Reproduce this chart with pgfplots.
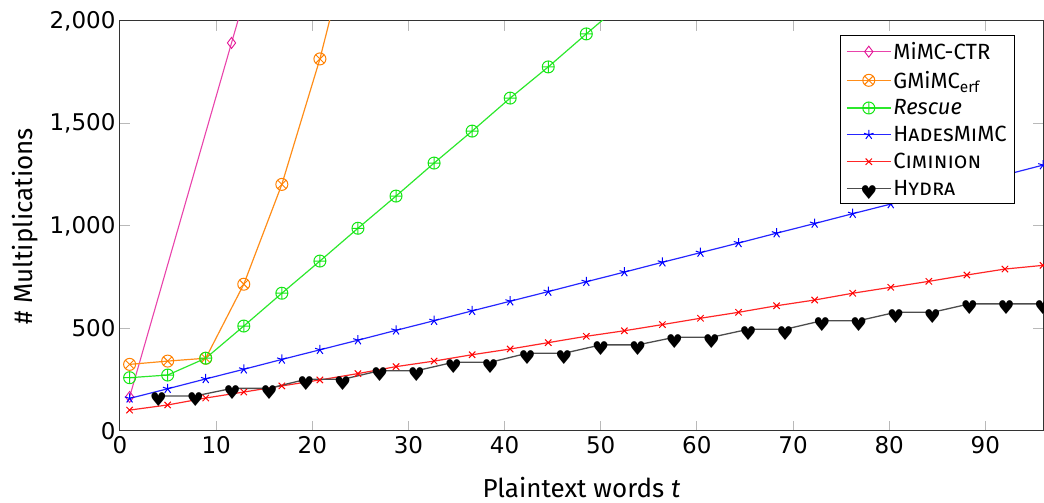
\documentclass[border=0pt]{standalone}
\usepackage{pgfplots}
\pgfplotsset{compat=1.18}
\usepackage{fontspec}
\setmainfont{Fira Sans}
\newfontfamily\dejavu{DejaVu Sans}
\definecolor{cmimc}{RGB}{228,20,150}
\definecolor{cgm}{RGB}{255,128,0}
\definecolor{cres}{RGB}{20,230,20}
\definecolor{chad}{RGB}{0,0,255}
\definecolor{ccim}{RGB}{255,0,0}
\definecolor{chyd}{RGB}{0,0,0}
\newcommand{\hmark}{\raisebox{-11pt}[0pt][0pt]{\color{black}\dejavu\fontsize{19}{19}\selectfont\symbol{"2665}}}
\begin{document}
\begin{tikzpicture}
\path[use as bounding box] (-120pt,-72pt) rectangle (924pt,431pt);
\begin{axis}[
  scale only axis,
  width=923pt, height=410pt,
  xmin=0, xmax=96, ymin=0, ymax=2000,
  xtick={0,10,...,90},
  ytick={0,500,1000,1500,2000},
  /pgf/number format/.cd, 1000 sep={,}, assume math mode=true, /pgfplots/.cd,
  ticklabel style={font=\dejavu\fontsize{23}{23}\selectfont},
  xticklabel style={yshift=-2pt},
  yticklabel style={xshift=-1pt},
  label style={font=\fontsize{26}{26}\selectfont},
  xlabel={Plaintext words \textit{t}},
  ylabel={\# Multiplications},
  xlabel style={yshift=-16pt},
  ylabel style={yshift=5pt},
  axis line style={black!80, line width=1pt},
  tick align=inside,
  major tick length=10pt,
  tick style={gray!55, line width=1pt},
  legend cell align=left,
  legend style={at={(0.9697,0.966)}, anchor=north east, draw=black, line width=0.8pt,
    font=\fontsize{22}{22}\selectfont, inner xsep=6pt, inner ysep=5pt,
    row sep=6pt, /tikz/every even column/.append style={column sep=3pt}},
  legend image code/.code={\draw[mark repeat=2,mark phase=2] plot coordinates {(0pt,0pt) (22pt,0pt) (44pt,0pt)};},
]
\addplot[color=cmimc!80!white, line width=1.1pt, mark=diamond, mark size=5.5pt, mark options={draw=cmimc, fill=white, line width=0.9pt}]
coordinates {(1,166) (11.6,1893) (22.2,3620)};
\addlegendentry{MiMC-CTR}
\addplot[color=cgm!90!white, line width=1.2pt, mark=otimes, mark size=6pt, mark options={draw=cgm, line width=1pt}]
coordinates {(1,325) (4.958,341) (8.917,355) (12.875,716) (16.833,1203) (20.792,1815) (24.75,2550)};
\addlegendentry{GMiMC$_{\mathrm{erf}}$}
\addplot[color=cres!90!white, line width=1.2pt, mark=oplus, mark size=6pt, mark options={draw=cres, line width=1pt}]
coordinates {(1,260) (4.958,273) (8.917,355) (12.875,512) (16.833,672) (20.792,829) (24.75,989) (28.708,1146) (32.667,1307) (36.625,1463) (40.583,1624) (44.542,1776) (48.5,1937) (52.458,2095)};
\addlegendentry{\textit{Rescue}}
\addplot[color=chad!85!white, line width=1.2pt, mark=star, mark size=5pt, mark options={draw=chad, line width=1pt}]
coordinates {(1,159) (4.958,206) (8.917,254) (12.875,301) (16.833,349) (20.792,396) (24.75,443) (28.708,491) (32.667,538) (36.625,586) (40.583,633) (44.542,680) (48.5,728) (52.458,775) (56.417,823) (60.375,870) (64.333,917) (68.292,965) (72.25,1012) (76.208,1060) (80.167,1107) (84.125,1154) (88.083,1202) (92.042,1249) (96,1297)};
\addlegendentry{\textsc{HadesMiMC}}
\addplot[color=ccim!85!white, line width=1.2pt, mark=x, mark size=4.5pt, mark options={draw=ccim, line width=1pt}]
coordinates {(1,102) (4.958,127) (8.917,161) (12.875,190) (16.833,220) (20.792,249) (24.75,280) (28.708,314) (32.667,341) (36.625,372) (40.583,400) (44.542,431) (48.5,462) (52.458,489) (56.417,519) (60.375,550) (64.333,579) (68.292,611) (72.25,639) (76.208,672) (80.167,701) (84.125,730) (88.083,761) (92.042,790) (96,808)};
\addlegendentry{\textsc{Ciminion}}
\addplot[color=black!70, line width=1.3pt, mark=text, text mark={\hmark}]
coordinates {(4,171) (7.833,171) (11.667,208) (15.5,208) (19.333,252) (23.167,252) (27,294) (30.833,294) (34.667,335) (38.5,335) (42.333,379) (46.167,379) (50,420) (53.833,420) (57.667,457) (61.5,457) (65.333,496) (69.167,496) (73,538) (76.833,538) (80.667,579) (84.5,579) (88.333,620) (92.167,620) (96,620)};
\addlegendentry{\textsc{Hydra}}
\end{axis}
\end{tikzpicture}
\end{document}
